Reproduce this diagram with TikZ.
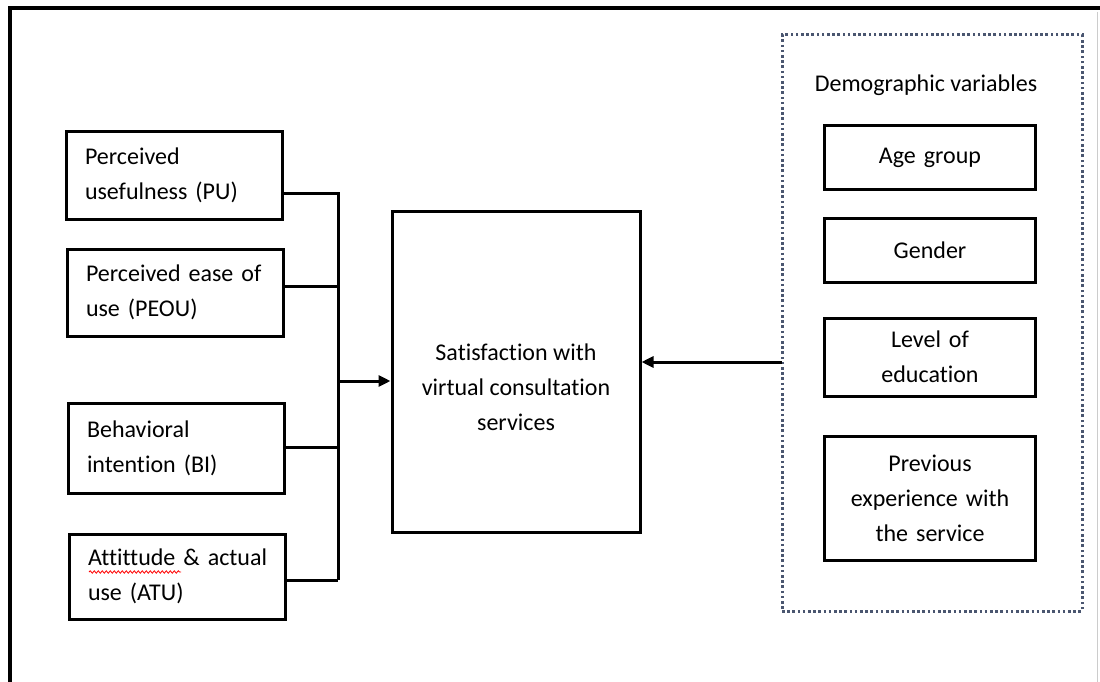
\documentclass[tikz,border=0pt]{standalone}
\usepackage{fontspec}
\setmainfont[Ligatures=NoCommon, WordSpace={1,0,0}]{Carlito}
\usetikzlibrary{arrows.meta,decorations.pathmorphing}
\hyphenpenalty=10000
\begin{document}
\begin{tikzpicture}[x=1pt,y=-1pt,
  every node/.style={font=\fontsize{24}{35}\selectfont, inner sep=0pt},
  lbox/.style={draw, line width=3pt, minimum width=216pt, text width=196pt, align=left},
  rbox/.style={draw, line width=3pt, minimum width=211pt, text width=205pt, align=center},
  conn/.style={line width=3pt},
  arr/.style={line width=3pt, -{Triangle[length=12pt,width=11pt]}}]
\useasboundingbox (0,0) rectangle (1100,682);
\definecolor{slate}{HTML}{4A5670}
% outer frame
\draw[line width=3.5pt] (10,690) -- (10,8) -- (1105,8);
\draw[gray!40, line width=1pt] (1097,12) -- (1097,690);
% left boxes (text starts ~19px inside)
\node[lbox, minimum height=87pt] (pu) at (174,175.5) {\hspace*{9pt}Perceived\\\hspace*{9pt}usefulness (PU)};
\node[lbox, minimum height=87pt] (peou) at (175,292.5) {\hspace*{9pt}Perceived ease of\\\hspace*{9pt}use (PEOU)};
\node[lbox, minimum height=90pt] (bi) at (176,448) {\hspace*{9pt}Behavioral\\\hspace*{9pt}intention (BI)};
\node[lbox, minimum height=85pt] (atu) at (177,576.5) {\hspace*{9pt}Attittude \& actual\\\hspace*{9pt}use (ATU)};
% red squiggle under Attittude
\draw[red, line width=0.8pt, decorate, decoration={snake, amplitude=1.2pt, segment length=4pt}] (89,572) -- (181,572);
% central box
\node[draw, line width=3pt, minimum width=248pt, minimum height=321pt] (sat) at (516,371.5) {};
\node[align=center] (sattext) at (516,387) {Satisfaction with\\virtual consultation\\services};
% junction
\coordinate (top) at (338,193);
\coordinate (bot) at (338,580);
\coordinate (j) at (338,381);
\draw[conn] ([yshift=-17.5pt]pu.east) -- (top) -- (bot);
\draw[conn] ([yshift=6.5pt]peou.east) -- ([yshift=6.5pt]peou.east -| top);
\draw[conn] ([yshift=1pt]bi.east) -- ([yshift=1pt]bi.east -| top);
\draw[conn] ([yshift=-3.5pt]atu.east) -- (bot);
\draw[arr] (j) -- (j -| sat.west);
% demographic panel
\node[draw=slate, line width=3pt, dash pattern=on 2.6pt off 2.6pt, minimum width=300pt, minimum height=576pt] (demo) at (932,323) {};
\node (demotitle) at (926,85) {Demographic variables};
\node[rbox, minimum height=63pt] (age) at (930,157.5) {Age group};
\node[rbox, minimum height=64pt] (gender) at (930,250) {Gender\\[6pt]};
\node[rbox, minimum height=78pt] (edu) at (930,357) {Level of\\education};
\node[rbox, minimum height=124pt] (prev) at (930,498) {Previous\\experience with\\the service};
\coordinate (ra) at (782,362);
\draw[arr] (ra) -- (ra -| sat.east);
\end{tikzpicture}
\end{document}
